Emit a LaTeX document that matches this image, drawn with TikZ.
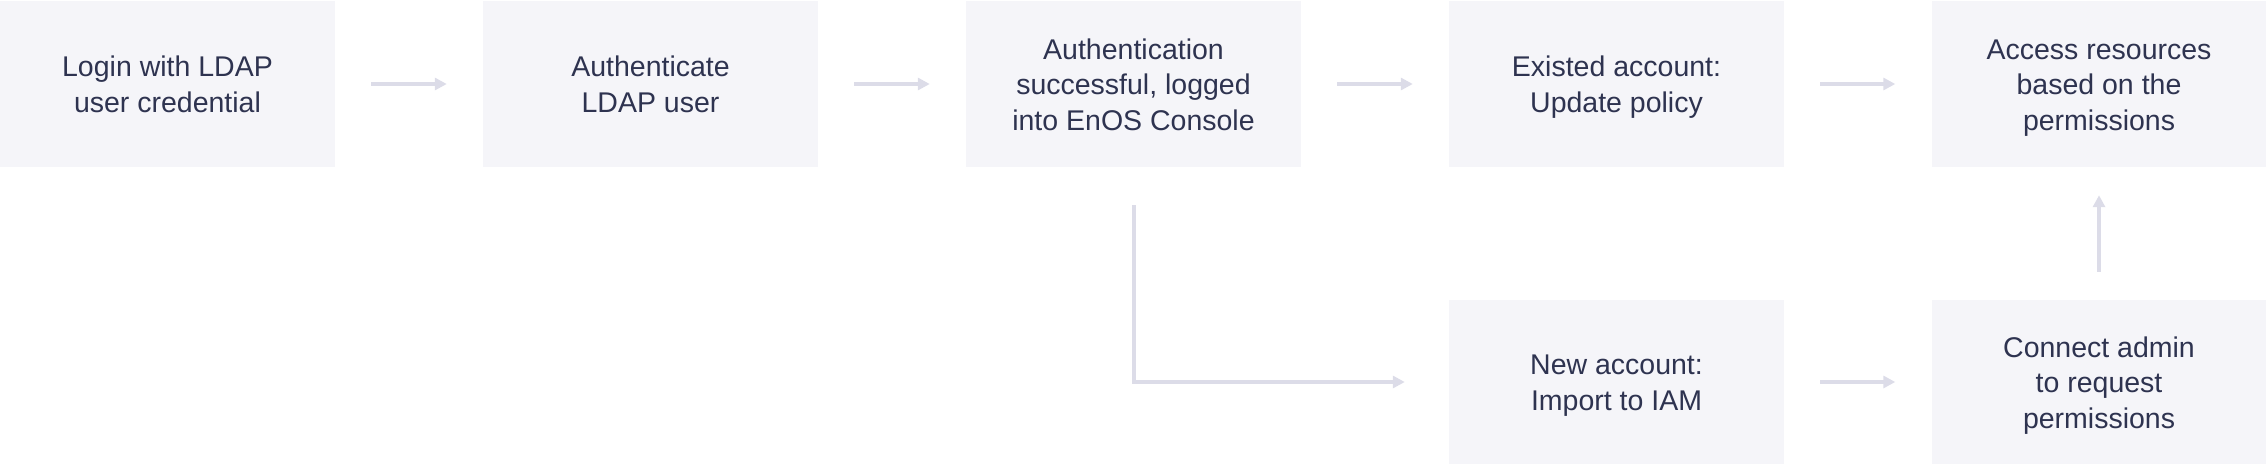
\documentclass[tikz,border=0pt]{standalone}
\usepackage{fontspec}
\setmainfont{Liberation Sans}
\usetikzlibrary{arrows.meta}
\definecolor{boxfill}{HTML}{F5F5F9}
\definecolor{txt}{HTML}{2E3350}
\definecolor{arr}{HTML}{DCDCE8}
\newcommand\bxtext[1]{\parbox{335pt}{\centering\rule[-6.5pt]{0pt}{34pt}#1\rule[-6.5pt]{0pt}{34pt}}}
\tikzset{
  box/.style={fill=boxfill, draw=none, inner sep=0pt, text=txt,
    minimum width=335pt, font=\fontsize{28.5}{35.5}\selectfont},
  toprow/.style={box, minimum height=166pt},
  botrow/.style={box, minimum height=164pt},
  conn/.style={draw=arr, line width=4pt, -{Triangle[length=12pt,width=12pt]}},
}
\begin{document}
\begin{tikzpicture}[x=1pt,y=-1pt]
\useasboundingbox (0,0) rectangle (2266,464);
\node[toprow] (b1) at (167.5,84) {\bxtext{Login with LDAP\\user credential}};
\node[toprow] (b2) at (650.5,84) {\bxtext{Authenticate\\LDAP user}};
\node[toprow] (b3) at (1133.5,84) {\bxtext{Authentication\\successful, logged\\into EnOS Console}};
\node[toprow] (b4) at (1616.5,84) {\bxtext{Existed account:\\Update policy}};
\node[toprow] (b5) at (2099,84) {\bxtext{Access resources\\based on the\\permissions}};
\node[botrow] (c4) at (1616.5,382) {\bxtext{New account:\\Import to IAM}};
\node[botrow] (c5) at (2099,382) {\bxtext{Connect admin\\to request\\permissions}};
\draw[conn, shorten <=36pt, shorten >=36pt] (b1.east) -- (b2.west);
\draw[conn, shorten <=36pt, shorten >=36pt] (b2.east) -- (b3.west);
\draw[conn, shorten <=36pt, shorten >=36pt] (b3.east) -- (b4.west);
\draw[conn, shorten <=36pt, shorten >=36pt] (b4.east) -- (b5.west);
\draw[conn, shorten <=36pt, shorten >=36pt] (c4.east) -- (c5.west);
\draw[conn, shorten <=28pt, shorten >=28pt] (c5.north) -- (b5.south);
\draw[conn, shorten <=38pt, shorten >=44pt] (b3.south) |- (c4.west);
\end{tikzpicture}
\end{document}
